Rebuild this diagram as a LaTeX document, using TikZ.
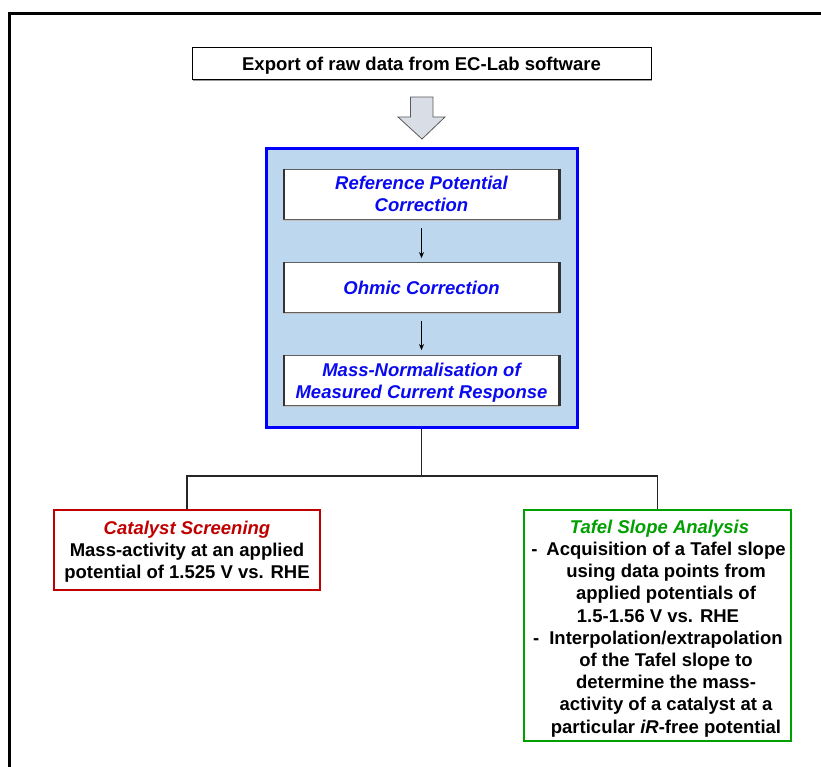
\documentclass[tikz,border=0pt]{standalone}
\usepackage{fontspec}
\setmainfont{Liberation Sans}
\usetikzlibrary{arrows.meta,shadows}
\definecolor{panelblue}{HTML}{BDD7EE}
\definecolor{txtblue}{HTML}{0A0AF0}
\definecolor{frameblue}{HTML}{0000FF}
\definecolor{redc}{HTML}{C00000}
\definecolor{greenc}{HTML}{00A000}
\definecolor{arrowfill}{HTML}{D9DEE6}
\newcommand\linestrut{\rule[-4.5pt]{0pt}{22.2pt}}
\tikzset{
  every node/.style={font=\fontsize{18.5}{22.2}\selectfont\bfseries, inner sep=0pt},
  topbox/.style={draw=black, line width=1pt, fill=white, minimum width=459pt, minimum height=32pt,
     drop shadow={shadow xshift=1.2pt, shadow yshift=-1.2pt, fill=gray!80, opacity=1}},
  panel/.style={draw=frameblue, fill=panelblue, line width=3pt, minimum width=311pt, minimum height=278pt},
  stepbox/.style={draw=gray!75!black, fill=white, line width=0.8pt, minimum width=277pt, minimum height=50pt,
     text=txtblue, font=\fontsize{18.5}{22.2}\selectfont\bfseries\itshape, align=center},
  resbox/.style={line width=2pt, fill=white},
  conn/.style={line width=1.2pt, draw=black!85},
  smallarrow/.style={line width=1pt, -{Stealth[length=6pt,width=5pt]}},
}
\begin{document}
\begin{tikzpicture}[x=1pt,y=-1pt]
\useasboundingbox (0,0) rectangle (821,767);
% outer frame (cut at the right and bottom)
\draw[line width=3pt] (9.5,770) -- (9.5,13.5) -- (825,13.5);

% top box
\node[topbox] (export) at (421.5,64) {\linestrut Export of raw data from EC-Lab software};

% block arrow
\draw[fill=arrowfill, draw=gray!70!black, line width=0.8pt]
  (410.5,97) -- (433,97) -- (433,117) -- (445,117) -- (422,139) -- (398,117) -- (410.5,117) -- cycle;

% blue panel
\node[panel] (panel) at (421.5,288) {};

% inner steps
\node[stepbox] (s1) at (421.5,194) {\linestrut Reference Potential\\\linestrut Correction};
\node[stepbox] (s2) at (421.5,287.5) {\linestrut Ohmic Correction};
\node[stepbox] (s3) at (421.5,380.5) {\linestrut Mass-Normalisation of\\\linestrut Measured Current Response};
\foreach \b in {s1,s2,s3}{
  \draw[gray!40!black, line width=2.2pt] ([xshift=1pt]\b.north west) -- ([xshift=1pt]\b.south west);
  \draw[gray!40!black, line width=2.2pt] ([xshift=-1pt]\b.north east) -- ([xshift=-1pt]\b.south east);
  \draw[gray!50, line width=1pt] ([yshift=-1pt]\b.south west) -- ([yshift=-1pt]\b.south east);
}
\draw[smallarrow] ([yshift=-9pt]s1.south) -- ([yshift=4pt]s2.north);
\draw[smallarrow] ([yshift=-8pt]s2.south) -- ([yshift=5pt]s3.north);

% result boxes
\node[resbox, draw=redc, minimum width=266pt, minimum height=80pt, align=center] (red) at (187,550)
  {\linestrut\textcolor{redc}{\itshape Catalyst Screening}\\\linestrut Mass-activity at an applied\\\linestrut potential of 1.525 V vs. RHE};
\node[resbox, draw=greenc, minimum width=267pt, minimum height=231pt] (green) at (657.5,625.5) {};
\node[align=center] (gtext) at (666,626.5)
  {\linestrut\textcolor{greenc}{\itshape Tafel Slope Analysis}\kern13pt\null\\
   \linestrut\llap{-\hspace{9pt}}Acquisition of a Tafel slope\\
   \linestrut using data points from\\
   \linestrut applied potentials of\\
   \linestrut 1.5-1.56 V vs. RHE\kern16pt\null\\
   \linestrut\llap{-\hspace{10pt}}Interpolation/extrapolation\\
   \linestrut of the Tafel slope to\\
   \linestrut determine the mass-\\
   \linestrut activity of a catalyst at a\\
   \linestrut particular \textit{iR}-free potential};

% tree connectors
\coordinate (junction) at (421.5,476);
\draw[conn] (panel.south) -- (junction);
\draw[conn] (red.north) |- (junction) -| (green.north);
\end{tikzpicture}
\end{document}
